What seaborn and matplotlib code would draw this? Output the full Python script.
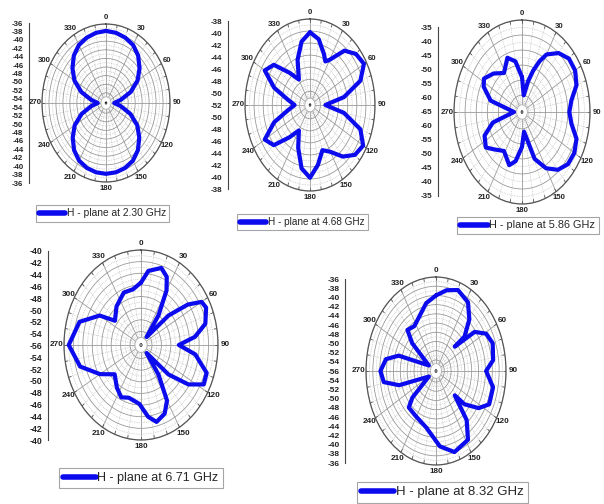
import numpy as np
import pandas as pd
import matplotlib
matplotlib.use("Agg")
import matplotlib.pyplot as plt
import seaborn as sns
from matplotlib.ticker import FixedLocator

sns.set_theme(style="white")
plt.rcParams["font.family"] = ["Liberation Sans", "DejaVu Sans"]

W, H = 604, 504

# ---- H-plane radiation patterns (angle in degrees, gain in dB) ----
freqs = ["2.30", "4.68", "5.86", "6.71", "8.32"]

ang_230 = [0, 10, 20, 30, 40, 50, 60, 70, 80, 90, 100, 110, 120, 130, 140, 150, 160, 170,
           180, 190, 200, 210, 220, 230, 240, 250, 260, 270, 280, 290, 300, 310, 320, 330,
           340, 350, 360]
gain_230 = [-37.6, -37.8, -38.2, -38.8, -40.0, -41.8, -43.9, -46.8, -50.0, -52.0, -50.0,
            -46.9, -44.0, -41.9, -40.1, -38.9, -38.3, -38.0, -37.9, -38.0, -38.3, -38.9,
            -40.1, -41.9, -44.0, -46.9, -50.0, -52.0, -50.0, -46.8, -43.9, -41.8, -40.0,
            -38.8, -38.2, -37.8, -37.6]

ang_468 = [0, 10, 20, 25, 30, 40, 50, 60, 70, 80, 90, 100, 110, 120, 130, 140, 150, 160,
           170, 180, 190, 200, 210, 220, 230, 240, 250, 260, 270, 280, 290, 300, 310, 320,
           330, 340, 350, 360]
gain_468 = [-40.2, -41.2, -43.3, -44.3, -43.6, -40.5, -39.1, -38.6, -40.5, -44.7, -48.9,
            -44.7, -40.5, -38.8, -39.4, -41.1, -43.3, -44.3, -42.2, -40.2, -41.6, -44.7,
            -47.4, -45.3, -41.9, -40.8, -43.9, -47.4, -48.9, -47.4, -43.9, -40.8, -41.9,
            -45.3, -47.4, -44.3, -41.6, -40.2]

ang_586 = [0, 8, 15, 20, 25, 30, 40, 50, 60, 70, 80, 90, 100, 110, 120, 130, 140, 150,
           160, 172, 180, 190, 198, 212, 225, 234, 245, 255, 270, 285, 296, 303, 315, 328,
           340, 350, 360]
gain_586 = [-54.0, -60.0, -55.0, -51.0, -47.0, -43.5, -40.0, -38.0, -38.0, -39.5, -43.0,
            -44.3, -43.0, -39.5, -38.4, -38.6, -40.5, -44.0, -49.0, -59.0, -54.0, -49.0,
            -47.0, -50.3, -48.0, -45.5, -47.0, -52.0, -62.0, -51.0, -46.4, -45.2, -47.5,
            -50.3, -46.4, -48.5, -54.0]

ang_671 = [0, 7, 18, 25, 30, 36, 41, 49, 55, 60, 65, 75, 83, 90, 98, 109, 117, 124, 131,
           139, 144, 150, 157, 166, 173, 182, 196, 205, 215, 228, 240, 254, 270, 287, 300,
           307, 322, 338, 350, 360]
gain_671 = [-45.6, -43.5, -42.4, -43.4, -45.5, -50.0, -54.5, -48.6, -44.2, -41.5, -41.1,
            -42.2, -44.8, -48.3, -44.7, -41.6, -41.4, -44.2, -48.6, -54.5, -50.0, -45.3,
            -43.5, -42.7, -43.9, -46.2, -46.9, -46.4, -47.4, -48.8, -46.3, -42.9, -41.0,
            -42.7, -46.2, -49.4, -47.9, -46.6, -46.6, -45.6]

ang_832 = [0, 10, 20, 32, 41, 48, 46, 53, 61, 70, 82, 90, 102, 115, 123, 131, 134, 140,
           148, 163, 176, 193, 212, 225, 230, 240, 254, 261, 270, 280, 287, 300, 311, 317,
           327, 349, 360]
gain_832 = [-40.0, -38.6, -37.7, -38.8, -41.6, -45.2, -48.8, -42.3, -39.7, -38.8, -39.6,
            -41.8, -39.4, -39.3, -41.6, -45.4, -48.8, -42.5, -38.8, -38.0, -40.0, -43.8,
            -45.0, -45.2, -47.4, -54.0, -45.2, -41.0, -40.2, -41.6, -45.0, -54.0, -47.2,
            -44.2, -44.8, -41.4, -40.0]

# radial range of each polar panel (dB at centre, dB at rim)
r_ranges = [(-54, -36), (-52, -38), (-65, -35), (-56, -40), (-56, -36)]

# labels on the mirrored dB scale beside each panel
scale_230 = [-36, -38, -40, -42, -44, -46, -48, -50, -52, -54,
             -54, -52, -50, -48, -46, -44, -42, -40, -38, -36]
scale_468 = [-38, -40, -42, -44, -46, -48, -50, -52, -50, -48, -46, -44, -42, -40, -38]
scale_586 = [-35, -40, -45, -50, -55, -60, -65, -60, -55, -50, -45, -40, -35]
scale_671 = [-40, -42, -44, -46, -48, -50, -52, -54, -56, -54, -52, -50, -48, -46,
             -44, -42, -40]
scale_832 = [-36, -38, -40, -42, -44, -46, -48, -50, -52, -54, -56, -54, -52, -50,
             -48, -46, -44, -42, -40, -38, -36]

patterns = [(ang_230, gain_230), (ang_468, gain_468), (ang_586, gain_586),
            (ang_671, gain_671), (ang_832, gain_832)]
scales = [scale_230, scale_468, scale_586, scale_671, scale_832]

# ---- layout in pixels: ellipse centre / half-axes, scale bar, legend box ----
layout = [
    dict(cx=106, cy=103, sh=64, sv=79, bar_x=29, bar_y=(23, 183), grid=2, sub=2,
         tfs=5.6, sfs=5.6, leg=(36, 205), lfs=7.4, hl=2.5),
    dict(cx=310, cy=105, sh=65, sv=86, bar_x=228, bar_y=(21, 189), grid=2, sub=2,
         tfs=5.6, sfs=5.8, leg=(237, 214), lfs=7.2, hl=2.6),
    dict(cx=522, cy=112, sh=68, sv=92, bar_x=438, bar_y=(27, 196), grid=5, sub=5,
         tfs=5.6, sfs=5.8, leg=(457, 217), lfs=7.8, hl=2.5),
    dict(cx=141, cy=345, sh=77, sv=95, bar_x=48, bar_y=(251, 440), grid=2, sub=2,
         tfs=5.9, sfs=6.2, leg=(59, 468), lfs=9.0, hl=2.6),
    dict(cx=436, cy=371, sh=70, sv=94, bar_x=345, bar_y=(279, 463), grid=2, sub=2,
         tfs=5.9, sfs=6.0, leg=(357, 482), lfs=9.5, hl=2.5),
]

BLUE = "#0B0BEE"
GRID = "#9a9a9a"
TXT = "#222222"
RIM = "#555555"

fig = plt.figure(figsize=(W / 100, H / 100), dpi=100)
fig.patch.set_facecolor("white")

ring = np.linspace(0, 2 * np.pi, 181)

for (ang, gain), labels, (rmin, rmax), f, L in zip(patterns, scales, r_ranges, freqs, layout):
    cx, cy, sh, sv = L["cx"], L["cy"], L["sh"], L["sv"]
    ax = fig.add_axes([(cx - sh) / W, 1 - (cy + sv) / H, 2 * sh / W, 2 * sv / H],
                      projection="polar")
    ax.set_aspect("auto")
    ax.set_facecolor("white")
    ax.set_theta_zero_location("N")
    ax.set_theta_direction(-1)
    span = rmax - rmin
    ax.set_ylim(rmin, rmax)
    ax.set_rorigin(rmin - 0.02 * span)

    step = L["grid"]
    ax.set_yticks(np.arange(rmin + step, rmax + 0.01, step))
    ax.set_yticklabels([])
    ax.yaxis.set_minor_locator(FixedLocator(np.arange(rmin + step / 2, rmax, step)))
    ax.set_thetagrids(np.arange(0, 360, 30), labels=[str(a) for a in range(0, 360, 30)],
                      fontsize=L["tfs"], color=TXT, fontweight="bold")
    ax.xaxis.set_minor_locator(FixedLocator(np.deg2rad([a for a in range(0, 360, 10)
                                                         if a % 30])))
    ax.grid(which="major", color=GRID, lw=0.6, ls="-")
    ax.grid(which="minor", color="#b5b5b5", lw=0.5, ls=(0, (1, 1.5)))
    ax.tick_params(axis="x", which="major", pad=-8)
    ax.tick_params(axis="both", which="minor", length=0)
    ax.spines["polar"].set_color(RIM)
    ax.spines["polar"].set_linewidth(0.9)
    ax.spines["inner"].set_visible(False)

    # white hub where the spokes meet, and short ticks just inside the rim
    ax.fill(ring, np.full_like(ring, rmin + 0.06 * span), facecolor="white",
            edgecolor="#b0b0b0", lw=0.6, zorder=2.6)
    for a in np.deg2rad(np.arange(0, 360, 10)):
        ax.plot([a, a], [rmax - 0.035 * span, rmax], color=RIM, lw=0.6, zorder=1.9)

    df = pd.DataFrame({"theta": np.deg2rad(ang), "gain": gain})
    sns.lineplot(data=df, x="theta", y="gain", sort=False, estimator=None, ax=ax,
                 color=BLUE, linewidth=3.0, solid_joinstyle="round", zorder=3)
    ax.set_xlabel("")
    ax.set_ylabel("")
    line = ax.lines[-1]

    # mirrored dB scale bar
    y0, y1 = L["bar_y"]
    sax = fig.add_axes([L["bar_x"] / W, 1 - y1 / H, 0.0001, (y1 - y0) / H])
    n = len(labels)
    sax.set_ylim(n - 1, 0)
    sax.set_xlim(0, 1)
    for s in ["top", "right", "bottom"]:
        sax.spines[s].set_visible(False)
    sax.spines["left"].set_color("#444444")
    sax.spines["left"].set_linewidth(0.8)
    sax.set_xticks([])
    sax.set_yticks(range(n))
    sax.set_yticklabels([str(v) for v in labels], fontsize=L["sfs"], color=TXT,
                        fontweight="bold")
    minor_pos = [i + k / L["sub"] for i in range(n - 1) for k in range(1, L["sub"])]
    sax.yaxis.set_minor_locator(FixedLocator(minor_pos))
    sax.tick_params(axis="y", which="major", direction="out", length=3, width=0.7,
                    color="#444444", pad=1)
    sax.tick_params(axis="y", which="minor", direction="out", length=2, width=0.6,
                    color="#444444")
    sax.patch.set_alpha(0)

    # legend box under the panel
    lx, ly = L["leg"]
    leg = ax.legend([line], [f"H - plane at {f} GHz"], loc="upper left",
                    bbox_to_anchor=(lx / W, 1 - ly / H), bbox_transform=fig.transFigure,
                    frameon=True, fancybox=False, fontsize=L["lfs"],
                    handlelength=L["hl"], handletextpad=0.15, borderpad=0.32,
                    borderaxespad=0)
    leg.get_frame().set_edgecolor("#8f8f8f")
    leg.get_frame().set_linewidth(0.8)
    leg.legend_handles[0].set_linewidth(4.0)

fig.savefig("out.png", dpi=100, facecolor="white")
